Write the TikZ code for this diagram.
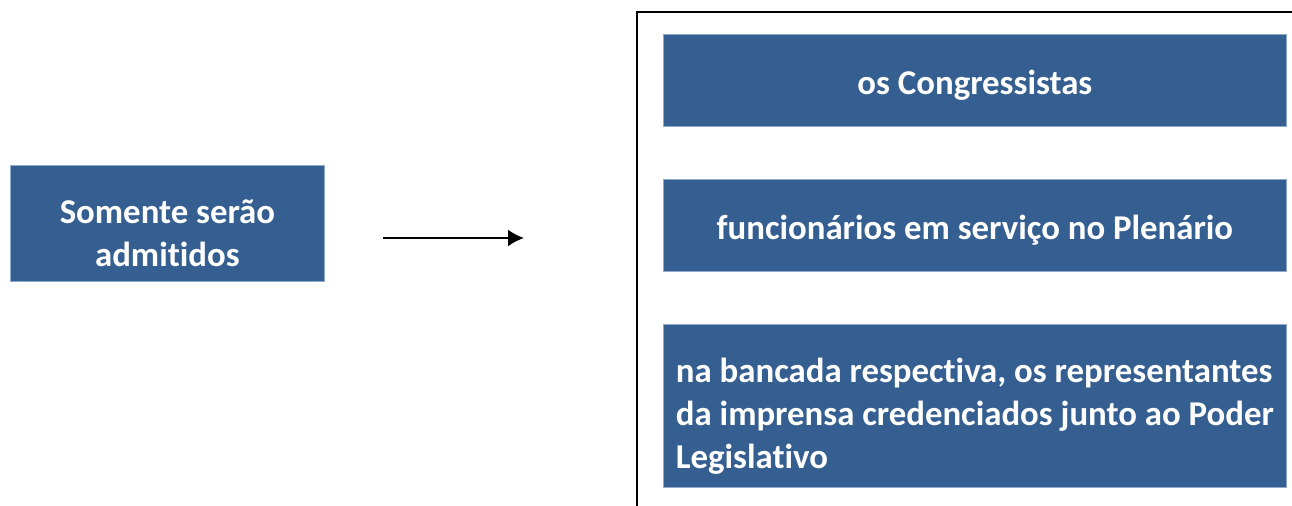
\documentclass[tikz,border=0pt]{standalone}
\usepackage{fontspec}
\setmainfont{Carlito}[Ligatures=NoCommon]
\usepackage{tikz}
\usetikzlibrary{arrows.meta}
\usetikzlibrary{calc}
\definecolor{boxblue}{HTML}{365F91}
\definecolor{boxedge}{HTML}{8EA9CF}

\begin{document}
\begin{tikzpicture}[x=0.5pt,y=-0.5pt,
  bluebox/.style={fill=boxblue,draw=boxedge,line width=0.4pt,text=white,inner sep=5pt,
    font=\bfseries\fontsize{17.4}{21.5}\selectfont,anchor=north west},
  wide/.style={minimum width=311.5pt},
  oneline/.style={text height=17pt,text depth=3pt}]
\useasboundingbox (0,0) rectangle (1292,506);
\clip (0,0) rectangle (1292,506);
%% frame on the right, it runs past the page
\draw[black,line width=1pt] (637,12.5) rectangle (1340,560);
%% left box
\node[bluebox,minimum width=157pt,minimum height=58pt,align=center,
  text height=45pt,text depth=2pt] (admitidos) at (10,165)
  {Somente serão\\admitidos};
\coordinate (arrowstart) at (383,238);
\coordinate (arrowend) at (524,238);
\draw[black,line width=1.1pt,-{Latex[length=8pt,width=8.5pt]}] (arrowstart) -- (arrowend);
%% the three boxes in the frame
\node[bluebox,wide,oneline,minimum height=46pt] (congressistas) at (663,34) {os Congressistas};
\node[bluebox,wide,oneline,minimum height=46pt] (funcionarios) at (663,179) {funcionários em serviço no Plenário};
\node[bluebox,wide,minimum height=81.5pt,inner xsep=2pt,align=left,
  text height=65pt,text depth=2.5pt] (imprensa) at (663,324)
  {na bancada respectiva, os representantes\\da imprensa credenciados junto ao Poder\\Legislativo};
\end{tikzpicture}
\end{document}
